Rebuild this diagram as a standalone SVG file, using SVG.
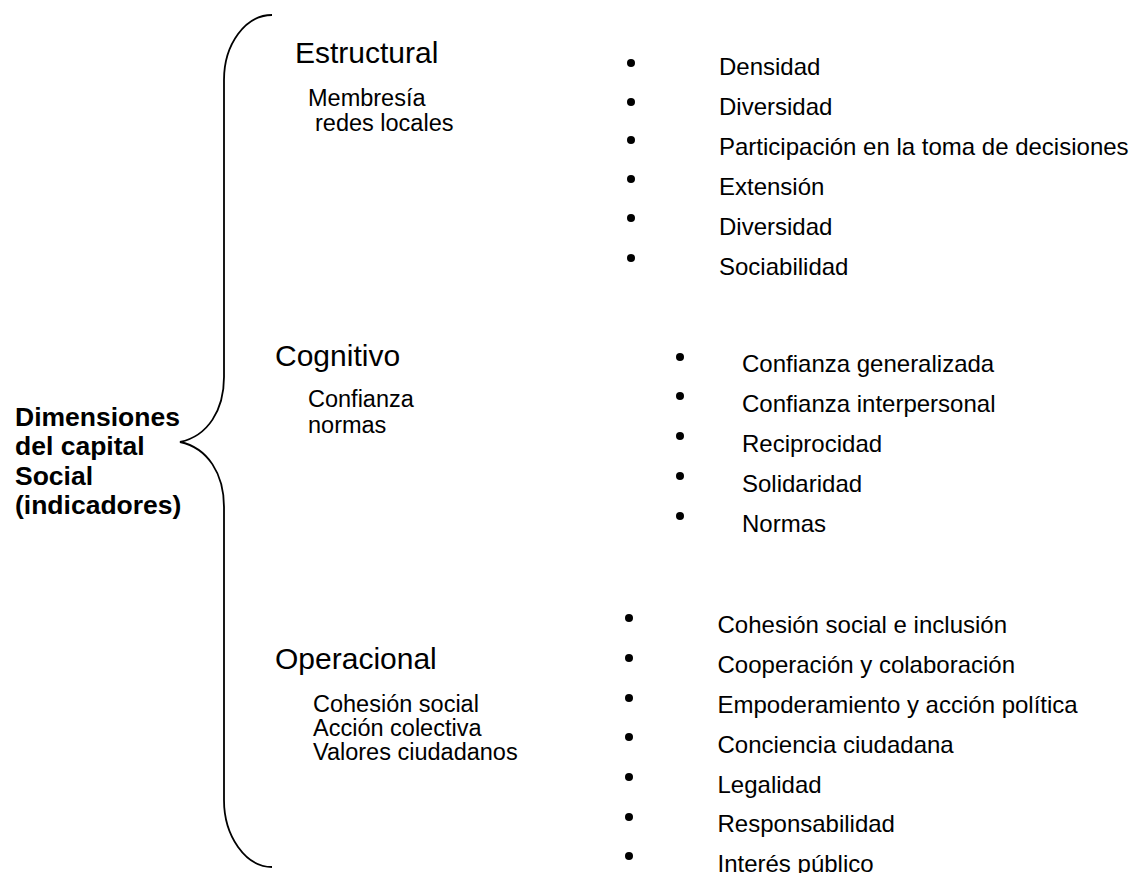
<svg xmlns="http://www.w3.org/2000/svg" width="1129" height="873" viewBox="0 0 1129 873">
<style>
text{font-family:"Liberation Sans",Arial,sans-serif;fill:#000}
.root{font-size:26.5px;font-weight:bold}
.head{font-size:30px}
.sub{font-size:23.5px}
.item{font-size:24px}
.brace{fill:none;stroke:#000;stroke-width:1.8}
.dot{fill:#000}
</style>
<rect width="1129" height="873" fill="#fff"/>
<g id="connectors">
<path class="brace" d="M272,15 C245.5,15 224,44 224,80 L224,377 C224,410 208,436 180,442 C208,448 224,474 224,507 L224,800 C224,836 245.5,867 272,867"/>
</g>
<g id="root">
<text class="root" x="15" y="426">Dimensiones</text>
<text class="root" x="15" y="455">del capital</text>
<text class="root" x="15" y="484.5">Social</text>
<text class="root" x="15" y="513.5">(indicadores)</text>
</g>
<g id="estructural">
<text class="head" x="295" y="63">Estructural</text>
<text class="sub" x="308" y="105.5">Membresía</text>
<text class="sub" x="315" y="131">redes locales</text>
</g>
<g id="cognitivo">
<text class="head" x="275" y="366">Cognitivo</text>
<text class="sub" x="308" y="407">Confianza</text>
<text class="sub" x="308" y="433">normas</text>
</g>
<g id="operacional">
<text class="head" x="275" y="669">Operacional</text>
<text class="sub" x="313" y="712">Cohesión social</text>
<text class="sub" x="313" y="736">Acción colectiva</text>
<text class="sub" x="313" y="760">Valores ciudadanos</text>
</g>
<g id="estructural-items">
<circle class="dot" cx="631" cy="63" r="4"/>
<circle class="dot" cx="631" cy="102" r="4"/>
<circle class="dot" cx="631" cy="140" r="4"/>
<circle class="dot" cx="631" cy="179" r="4"/>
<circle class="dot" cx="631" cy="218" r="4"/>
<circle class="dot" cx="631" cy="258" r="4"/>
<text class="item" x="719" y="75">Densidad</text>
<text class="item" x="719" y="115">Diversidad</text>
<text class="item" x="719" y="155">Participación en la toma de decisiones</text>
<text class="item" x="719" y="195">Extensión</text>
<text class="item" x="719" y="235">Diversidad</text>
<text class="item" x="719" y="275">Sociabilidad</text>
</g>
<g id="cognitivo-items">
<circle class="dot" cx="680" cy="357" r="4"/>
<circle class="dot" cx="680" cy="396" r="4"/>
<circle class="dot" cx="680" cy="436" r="4"/>
<circle class="dot" cx="680" cy="476" r="4"/>
<circle class="dot" cx="680" cy="516" r="4"/>
<text class="item" x="742" y="372">Confianza generalizada</text>
<text class="item" x="742" y="412">Confianza interpersonal</text>
<text class="item" x="742" y="452">Reciprocidad</text>
<text class="item" x="742" y="492">Solidaridad</text>
<text class="item" x="742" y="532">Normas</text>
</g>
<g id="operacional-items">
<circle class="dot" cx="629" cy="618" r="4"/>
<circle class="dot" cx="629" cy="658" r="4"/>
<circle class="dot" cx="629" cy="698" r="4"/>
<circle class="dot" cx="629" cy="737" r="4"/>
<circle class="dot" cx="629" cy="777" r="4"/>
<circle class="dot" cx="629" cy="817" r="4"/>
<circle class="dot" cx="629" cy="856" r="4"/>
<text class="item" x="717.5" y="633">Cohesión social e inclusión</text>
<text class="item" x="717.5" y="673">Cooperación y colaboración</text>
<text class="item" x="717.5" y="712.5">Empoderamiento y acción política</text>
<text class="item" x="717.5" y="752.5">Conciencia ciudadana</text>
<text class="item" x="717.5" y="792.5">Legalidad</text>
<text class="item" x="717.5" y="832">Responsabilidad</text>
<text class="item" x="717.5" y="872">Interés público</text>
</g>
</svg>
